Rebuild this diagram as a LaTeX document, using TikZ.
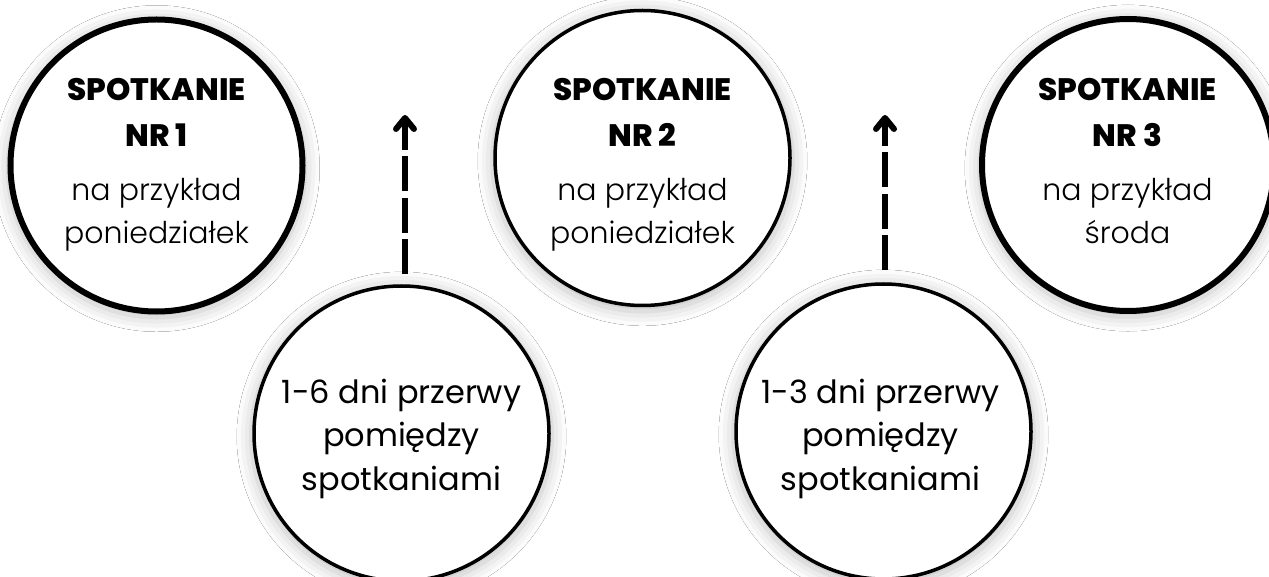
\documentclass[tikz,border=0pt]{standalone}
\usepackage{fontspec}
\setmainfont{Poppins}
\newfontfamily\popheavy{Poppins ExtraBold}
\newfontfamily\poplight{Poppins Light}
\usetikzlibrary{shadows.blur}
\begin{document}
\begin{tikzpicture}[x=1pt,y=-1pt,
  glow/.style={blur shadow={shadow xshift=0pt,shadow yshift=-3pt,shadow blur radius=14pt,shadow opacity=25,shadow scale=1.02}},
  bigcircle/.style={circle,draw=black,fill=white,line width=6pt,minimum size=292pt,inner sep=0pt,glow},
  midcircle/.style={circle,draw=black,fill=white,line width=3.5pt,minimum size=295pt,inner sep=0pt,glow},
  title/.style={anchor=base,inner sep=0pt,font=\fontsize{31}{36}\popheavy},
  body/.style={anchor=base,inner sep=0pt,font=\fontsize{30}{36}\poplight},
  gap/.style={anchor=base,inner sep=0pt,font=\fontsize{32}{38}\selectfont},
  flow/.style={line width=6pt,dash pattern=on 35pt off 6.5pt},
  head/.style={line width=6pt,line cap=round,line join=round}
]
\useasboundingbox (0,0) rectangle (1269,577);
\fill[white] (0,0) rectangle (1269,577);

% top circles
\node[bigcircle] (s1) at (156.5,165.5) {};
\node[midcircle] (s2) at (642.5,158) {};
\node[bigcircle] (s3) at (1128,165) {};
% bottom circles
\node[midcircle] (b1) at (401.5,433.5) {};
\node[midcircle] (b2) at (883.5,431.5) {};

% texts meeting 1
\node[title] (s1a) at (156.5,101) {SPOTKANIE};
\node[title] (s1b) at (156.5,147) {NR 1};
\node[body]  (s1c) at (156.5,201) {na przykład};
\node[body]  (s1d) at (156.5,244) {poniedziałek};
% meeting 2
\node[title] (s2a) at (642.5,101) {SPOTKANIE};
\node[title] (s2b) at (642.5,147) {NR 2};
\node[body]  (s2c) at (642.5,201) {na przykład};
\node[body]  (s2d) at (642.5,244) {poniedziałek};
% meeting 3
\node[title] (s3a) at (1127.5,101) {SPOTKANIE};
\node[title] (s3b) at (1127.5,147) {NR 3};
\node[body]  (s3c) at (1127.5,201) {na przykład};
\node[body]  (s3d) at (1127.5,244) {środa};

% breaks
\node[gap] (b1a) at (401.5,403) {1-6 dni przerwy};
\node[gap] (b1b) at (401.5,446) {pomiędzy};
\node[gap] (b1c) at (401.5,490) {spotkaniami};
\node[gap] (b2a) at (880.5,403) {1-3 dni przerwy};
\node[gap] (b2b) at (880.5,446) {pomiędzy};
\node[gap] (b2c) at (880.5,490) {spotkaniami};

% arrows
\coordinate (t1) at (405,118);
\coordinate (t2) at (885,118);
\draw[flow] ([yshift=10pt]b1.north -| t1) -- (t1);
\draw[flow] ([yshift=12pt]b2.north -| t2) -- (t2);
\draw[head] ([shift={(-9,11)}]t1) -- (t1) -- ([shift={(9,11)}]t1);
\draw[head] ([shift={(-9,11)}]t2) -- (t2) -- ([shift={(9,11)}]t2);
\end{tikzpicture}
\end{document}
